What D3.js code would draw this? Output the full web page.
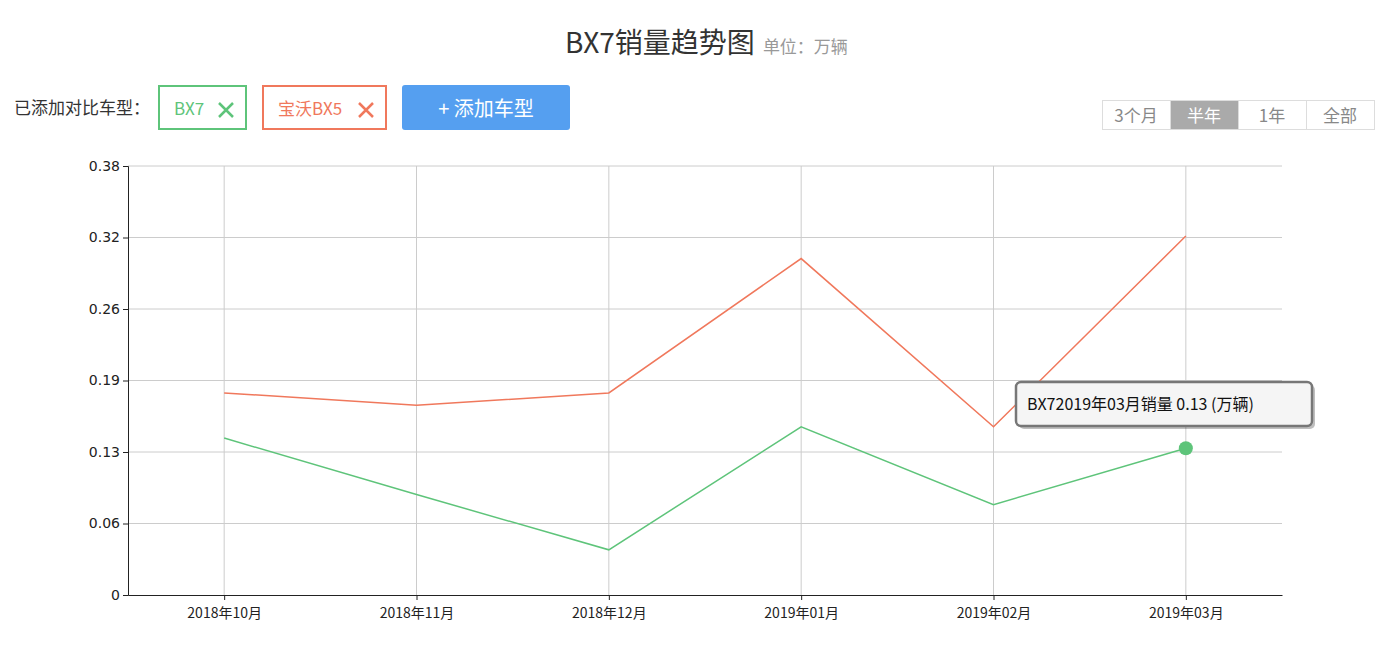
<!DOCTYPE html>
<html><head><meta charset="utf-8">
<script src="https://cdn.jsdelivr.net/npm/d3@7"></script>
<style>
body{margin:0;background:#fff;font-family:"Noto Sans CJK SC","Noto Sans",sans-serif}
</style></head><body>
<svg id="chart" width="1382" height="646"></svg>
<script>
const months = ["2018年10月","2018年11月","2018年12月","2019年01月","2019年02月","2019年03月"]
const bx7 = [0.139, 0.089, 0.040, 0.149, 0.080, 0.130]
const bx5 = [0.179, 0.168, 0.179, 0.298, 0.149, 0.318]
const tickLabels = ["0","0.06","0.13","0.19","0.26","0.32","0.38"]
const yMax = 0.38

const green = "#5ec47a", red = "#f0785c"
const svg = d3.select("#chart")
const font = "'Noto Sans CJK SC', sans-serif"

// title
const title = svg.append("text").attr("x", 565).attr("y", 53).attr("font-family", font)
title.append("tspan").attr("font-size", 28).attr("fill", "#333").text("BX7销量趋势图")
title.append("tspan").attr("font-size", 17).attr("fill", "#999").attr("dx", 8).text("单位：万辆")

// controls
svg.append("text").attr("x", 14).attr("y", 114).attr("font-size", 17).attr("fill", "#333")
  .attr("font-family", font).text("已添加对比车型：")
const tags = [{t:"BX7", c:green, x:159, w:87}, {t:"宝沃BX5", c:red, x:263, w:123}]
tags.forEach(d => {
  svg.append("rect").attr("x", d.x).attr("y", 86).attr("width", d.w).attr("height", 43)
    .attr("fill", "#fff").attr("stroke", d.c).attr("stroke-width", 2)
  svg.append("text").attr("x", d.x + 15).attr("y", 115).attr("font-size", 17).attr("fill", d.c)
    .attr("font-family", font).text(d.t)
  const cx = d.x + d.w - 20, cy = 110
  svg.append("path").attr("d", `M${cx-7},${cy-7}L${cx+7},${cy+7}M${cx+7},${cy-7}L${cx-7},${cy+7}`)
    .attr("stroke", d.c).attr("stroke-width", 2.5)
})
svg.append("rect").attr("x", 402).attr("y", 85).attr("width", 168).attr("height", 45).attr("rx", 3).attr("fill", "#559ff0")
svg.append("text").attr("x", 486).attr("y", 116).attr("text-anchor", "middle").attr("font-size", 20)
  .attr("fill", "#fff").attr("font-family", font).text("+ 添加车型")

const ranges = ["3个月","半年","1年","全部"]
ranges.forEach((r, i) => {
  const x = 1102 + i * 68
  svg.append("rect").attr("x", x + 0.5).attr("y", 100.5).attr("width", 68).attr("height", 29)
    .attr("fill", i == 1 ? "#aaa" : "#fff").attr("stroke", "#ddd")
  svg.append("text").attr("x", x + 34).attr("y", 122).attr("text-anchor", "middle").attr("font-size", 17)
    .attr("fill", i == 1 ? "#fff" : "#888").attr("font-family", font).text(r)
})

// scales
const x = d3.scalePoint().domain(months).range([128, 1282]).padding(0.5)
const y = d3.scaleLinear().domain([0, yMax]).range([595, 166])
const tickVals = tickLabels.map((_, i) => i * yMax / 6)

svg.append("g").selectAll("line").data(tickVals.slice(1)).join("line")
  .attr("x1", 128).attr("x2", 1282).attr("y1", d => y(d)).attr("y2", d => y(d)).attr("stroke", "#ccc")
svg.append("g").selectAll("line").data(months).join("line")
  .attr("x1", d => x(d)).attr("x2", d => x(d)).attr("y1", 166).attr("y2", 595).attr("stroke", "#ccc")

svg.append("g").attr("transform", "translate(128,0)")
  .call(d3.axisLeft(y).tickValues(tickVals).tickFormat((d, i) => tickLabels[i]).tickSize(5))
  .call(g => g.selectAll("text").attr("font-size", 14).attr("fill", "#222").attr("font-family", "DejaVu Sans"))
  .call(g => g.selectAll("path,line").attr("stroke", "#222"))
svg.append("g").attr("transform", "translate(0,595)")
  .call(d3.axisBottom(x).tickSize(5).tickSizeOuter(0))
  .call(g => g.selectAll("text").attr("font-size", 14).attr("fill", "#222").attr("font-family", font).attr("dy", "1.1em"))
  .call(g => g.selectAll("path,line").attr("stroke", "#222"))

const line = d3.line().x((d, i) => x(months[i])).y(d => y(d))
svg.append("path").datum(bx5).attr("d", line).attr("fill", "none").attr("stroke", red).attr("stroke-width", 1.5)
svg.append("path").datum(bx7).attr("d", line).attr("fill", "none").attr("stroke", green).attr("stroke-width", 1.5)

svg.append("circle").attr("cx", x(months[5])).attr("cy", y(bx7[5])).attr("r", 7).attr("fill", green)

// tooltip
const tip = svg.append("g").attr("transform", "translate(1016,382)")
tip.append("rect").attr("x", 3).attr("y", 3).attr("width", 296).attr("height", 44).attr("rx", 5).attr("fill", "rgba(0,0,0,0.25)")
tip.append("rect").attr("width", 296).attr("height", 44).attr("rx", 5).attr("fill", "#f5f5f5")
  .attr("stroke", "#777").attr("stroke-width", 2.5)
tip.append("text").attr("x", 11).attr("y", 28).attr("font-size", 16).attr("fill", "#111").attr("font-family", font)
  .text("BX72019年03月销量 0.13 (万辆)")
</script></body></html>
